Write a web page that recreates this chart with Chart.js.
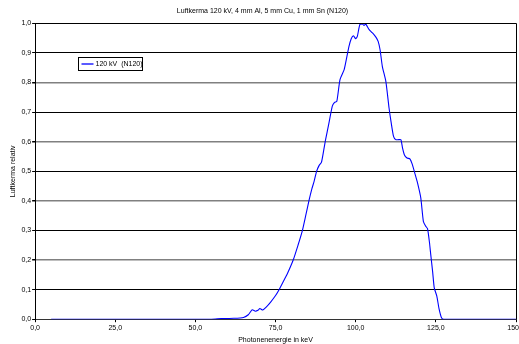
<!DOCTYPE html>
<html>
<head>
<meta charset="utf-8">
<script src="https://cdn.jsdelivr.net/npm/chart.js@4.4.1/dist/chart.umd.min.js"></script>
<style>
html,body{margin:0;padding:0;background:#fff;}
canvas{display:block;}
</style>
</head>
<body>
<canvas id="c" width="519" height="344"></canvas>
<script>
const titleText = "Luftkerma 120 kV, 4 mm Al, 5 mm Cu, 1 mm Sn (N120)";
const xTitle = "Photonenenergie in keV";
const yTitle = "Luftkerma relativ";
const seriesName = "120 kV  (N120)";

const energyKeV = [5, 55, 58, 62, 65, 66.5, 67.7, 68.7, 69.5, 70.1, 71.0, 72, 73.4, 75, 76, 77.3, 78.6, 80.5, 82, 83.3,
  84.4, 85.4, 86.3, 87.0, 87.8, 88.6, 89.3, 90.0, 90.6, 91.6, 92.7, 93.4, 94.1, 95.1, 96.4, 97.2, 97.9, 98.6, 99.3, 100.0,
  100.5, 101.3, 102.1, 102.6, 103.1, 104.2, 105.0, 105.7, 106.4, 107.0, 107.6, 108.3, 109.4, 110.4, 111.0, 111.8, 112.5, 113.4, 114.1, 114.6,
  115.2, 116.0, 116.9, 117.6, 118.4, 119.3, 120.3, 121.1, 121.8, 122.4, 123.0, 123.4, 124.0, 124.5, 125.3, 126.0, 126.8, 127.5, 150];
const kermaRel = [0, 0, 0.002, 0.003, 0.006, 0.015, 0.032, 0.027, 0.030, 0.036, 0.031, 0.040, 0.057, 0.080, 0.098, 0.125, 0.152, 0.200, 0.250, 0.297,
  0.350, 0.400, 0.440, 0.465, 0.500, 0.520, 0.530, 0.570, 0.607, 0.660, 0.720, 0.733, 0.736, 0.810, 0.844, 0.885, 0.922, 0.948, 0.958, 0.948,
  0.956, 0.996, 0.998, 0.993, 0.998, 0.979, 0.970, 0.962, 0.952, 0.939, 0.911, 0.855, 0.804, 0.714, 0.669, 0.618, 0.607, 0.607, 0.607, 0.579,
  0.555, 0.545, 0.542, 0.525, 0.495, 0.460, 0.410, 0.331, 0.315, 0.306, 0.260, 0.219, 0.160, 0.106, 0.078, 0.035, 0.004, 0, 0];

const xTicks = [0, 25, 50, 75, 100, 125, 150];
const yTicks = [0, 0.1, 0.2, 0.3, 0.4, 0.5, 0.6, 0.7, 0.8, 0.9, 1.0];

const FONT = "'Liberation Sans', Arial, sans-serif";
const fmt = v => v.toFixed(1).replace('.', ',');

const points = energyKeV.map((x, i) => ({x: x, y: kermaRel[i]}));

const frameAndLegend = {
  id: 'frameAndLegend',
  afterDraw(chart) {
    const {ctx, chartArea: a} = chart;
    ctx.save();
    ctx.strokeStyle = '#000';
    ctx.lineWidth = 1;
    ctx.beginPath();
    ctx.moveTo(Math.round(a.left) + 0.5, Math.round(a.top) + 0.5);
    ctx.lineTo(Math.round(a.right) + 0.5, Math.round(a.top) + 0.5);
    ctx.lineTo(Math.round(a.right) + 0.5, Math.round(a.bottom) + 0.5);
    ctx.stroke();
    // legend box
    const bx = 78.5, by = 57.5, bw = 64, bh = 13;
    ctx.fillStyle = '#fff';
    ctx.fillRect(bx, by, bw, bh);
    ctx.strokeRect(bx, by, bw, bh);
    ctx.strokeStyle = '#0000ff';
    ctx.lineWidth = 1.3;
    ctx.beginPath();
    ctx.moveTo(bx + 3, by + 6.5);
    ctx.lineTo(bx + 15, by + 6.5);
    ctx.stroke();
    ctx.fillStyle = '#000';
    ctx.font = "7px " + FONT;
    ctx.textBaseline = 'middle';
    ctx.textAlign = 'left';
    ctx.fillText(seriesName, bx + 17, by + 7);
    ctx.restore();
  }
};

new Chart(document.getElementById('c'), {
  type: 'line',
  data: {
    datasets: [{
      label: seriesName,
      data: points,
      borderColor: '#0000ff',
      borderWidth: 1.1,
      pointRadius: 0,
      tension: 0.2,
      fill: false
    }]
  },
  options: {
    responsive: false,
    animation: false,
    layout: {padding: {left: 9, right: 3, top: 0, bottom: 0}},
    plugins: {
      legend: {display: false},
      tooltip: {enabled: false},
      title: {
        display: true,
        text: titleText,
        color: '#000',
        font: {family: FONT, size: 7, weight: 'normal'},
        padding: {top: 7, bottom: 8}
      }
    },
    scales: {
      x: {
        type: 'linear',
        min: 0, max: 150,
        afterBuildTicks: s => { s.ticks = xTicks.map(v => ({value: v})); },
        afterFit: s => { s.paddingLeft = 0; s.paddingRight = 0; },
        ticks: {
          callback: v => fmt(v),
          color: '#000',
          font: {family: FONT, size: 7},
          maxRotation: 0,
          autoSkip: false,
          padding: 2
        },
        grid: {drawOnChartArea: false, drawTicks: true, tickLength: 3, color: '#000'},
        border: {display: true, color: '#333', width: 1},
        title: {display: true, text: xTitle, color: '#000', font: {family: FONT, size: 7}, padding: {top: 1, bottom: 0}}
      },
      y: {
        min: 0, max: 1,
        afterBuildTicks: s => { s.ticks = yTicks.map(v => ({value: v})); },
        ticks: {
          callback: v => fmt(v),
          color: '#000',
          font: {family: FONT, size: 7},
          padding: 1,
          autoSkip: false
        },
        grid: {
          color: c => (c.index % 2 === 0 && c.index !== 10 && c.index !== 0) ? '#808080' : '#000',
          lineWidth: c => (c.index % 2 === 0 && c.index !== 10 && c.index !== 0) ? 1.5 : 1,
          tickLength: 3,
          tickColor: '#000'
        },
        border: {display: true, color: '#000', width: 1},
        title: {display: true, text: yTitle, color: '#000', font: {family: FONT, size: 7}, padding: {top: 0, bottom: 3}}
      }
    }
  },
  plugins: [frameAndLegend]
});
</script>
</body>
</html>
